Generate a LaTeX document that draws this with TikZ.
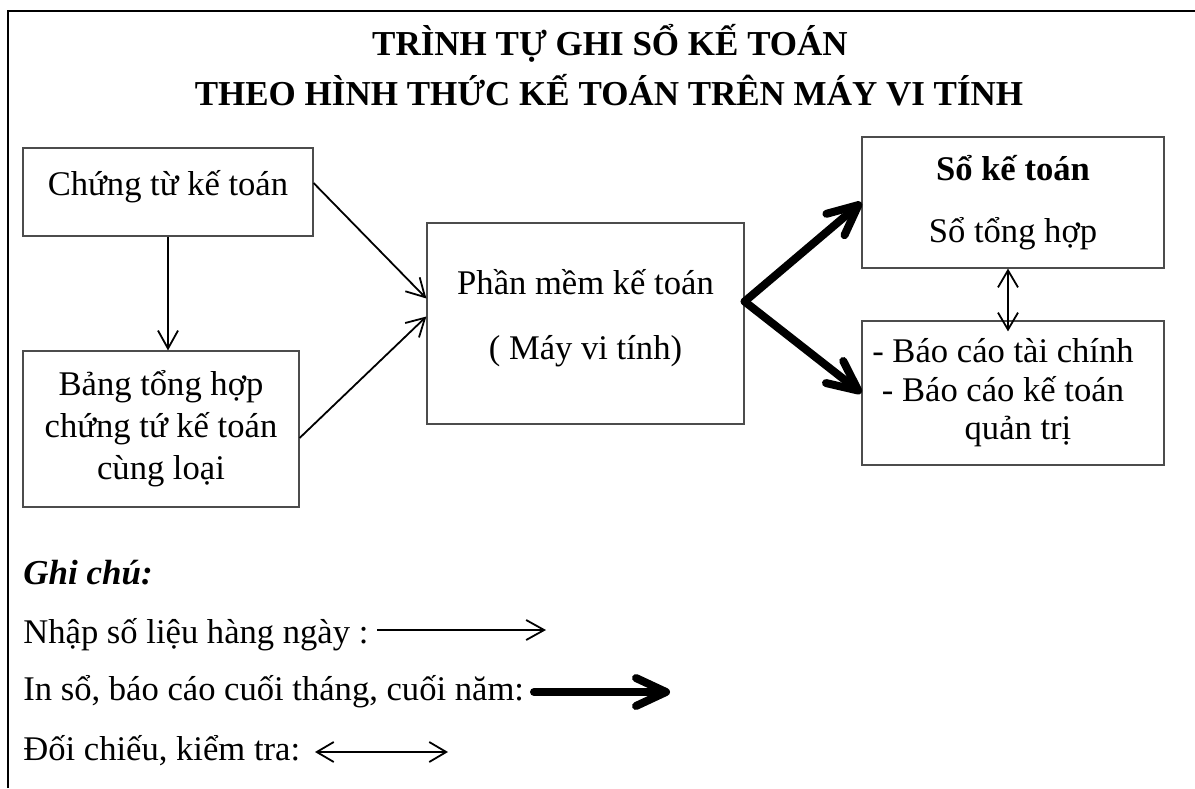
\documentclass[tikz,border=0pt]{standalone}
\usepackage{fontspec}
\setmainfont{Liberation Serif}
\usetikzlibrary{arrows.meta}

\begin{document}
\begin{tikzpicture}[x=0.5pt,y=-0.5pt,
    every node/.style={font=\fontsize{17.3}{21}\selectfont},
    box/.style={draw=black!70,line width=0.6pt,align=center,inner sep=0pt},
    key/.style={anchor=base west,inner sep=0pt},
    flow/.style={line width=0.9pt,-{Straight Barb[length=9pt,width=10pt]}},
    boldflow/.style={line width=4pt,line cap=round,-{Straight Barb[length=15pt,width=14pt,round]}},
    check/.style={line width=0.9pt,{Straight Barb[length=8.5pt,width=10pt]}-{Straight Barb[length=8.5pt,width=10pt]}}]
        \useasboundingbox (0,0) rectangle (1195,788);
        \draw[line width=1pt] (8,788) -- (8,11) -- (1195,11);
        \node[anchor=base,font=\fontsize{17.5}{21}\selectfont\bfseries] (title1) at (610,55) {TRÌNH TỰ GHI SỔ KẾ TOÁN};
        \node[anchor=base,font=\fontsize{17.5}{21}\selectfont\bfseries] (title2) at (609,105) {THEO HÌNH THỨC KẾ TOÁN TRÊN MÁY VI TÍNH};
        \node[box,minimum width=145pt,minimum height=44pt] (ctu) at (168,192) {Chứng từ kế toán\\[-12pt]\mbox{}};
        \node[box,minimum width=138pt,minimum height=78pt] (bth) at (161,429) {Bảng tổng hợp\\chứng tứ kế toán\\cùng loại};
        \node[box,minimum width=158.5pt,minimum height=100.5pt] (pm) at (585.5,323.5) {Phần mềm kế toán\\[11.5pt]( Máy vi tính)\\[-12pt]\mbox{}};
        \node[box,minimum width=151pt,minimum height=65.5pt] (so) at (1013,202.5) {\textbf{Sổ kế toán}\\[10pt]Sổ tổng hợp};
        \node[box,minimum width=151pt,minimum height=72pt] (bc) at (1013,393) {- Báo cáo tài chính\hspace*{10pt}\mbox{}\\[-1.75pt]- Báo cáo kế toán\hspace*{10pt}\mbox{}\\[-1.75pt]\hspace*{5pt}quản trị};
        \draw[flow] (ctu.south) -- (ctu.south |- bth.north);
        \draw[flow] ([yshift=4.5pt]ctu.east) -- ([yshift=12.5pt]pm.west);
        \draw[flow] ([yshift=-4.5pt]bth.east) -- ([yshift=3.5pt]pm.west);
        \draw[boldflow] ([yshift=11pt]pm.east) -- (so.west);
        \draw[boldflow] ([yshift=11pt]pm.east) -- (bc.west);
        \draw[check] ([xshift=-2.5pt]so.south) -- ([xshift=-2.5pt,yshift=-5.5pt]bc.north);
        \node[key,font=\fontsize{17.5}{21}\selectfont\bfseries\itshape] (note) at (23,584) {Ghi chú:};
        \node[key] (key1) at (23,643) {Nhập số liệu hàng ngày :};
        \node[key] (key2) at (23,700) {In sổ, báo cáo cuối tháng, cuối năm:};
        \node[key] (key3) at (23,760) {Đối chiếu, kiểm tra:};
        \coordinate (k1a) at (377,630);
        \coordinate (k1b) at (546,630);
        \coordinate (k2a) at (534,692);
        \coordinate (k2b) at (670,692);
        \coordinate (k3a) at (315,752);
        \coordinate (k3b) at (448,752);
        \draw[flow] (k1a) -- (k1b);
        \draw[boldflow] (k2a) -- (k2b);
        \draw[check] (k3a) -- (k3b);
\end{tikzpicture}
\end{document}
